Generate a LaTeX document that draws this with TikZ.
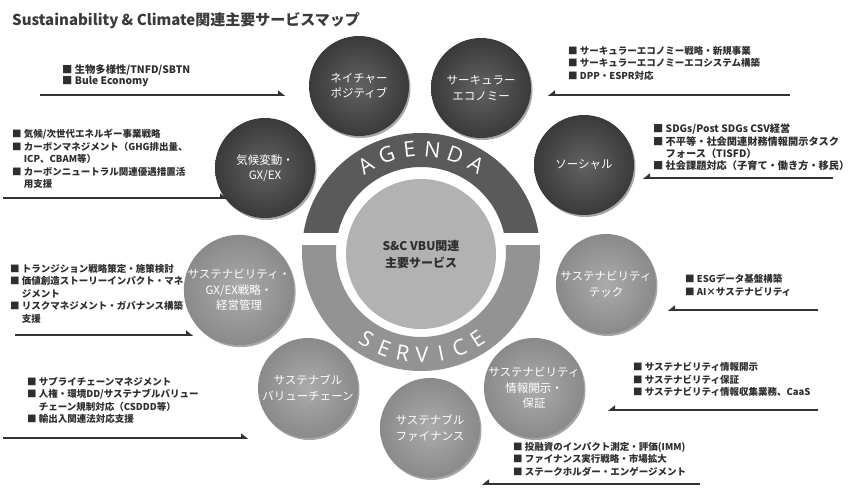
\documentclass[tikz,border=0pt]{standalone}
\usepackage{fontspec}
\setmainfont{Noto Sans CJK JP}
\newfontfamily\ringfont{Open Sans}
\usetikzlibrary{arrows.meta,shadows,calc}
\definecolor{titlegray}{HTML}{3A3A3A}
\definecolor{textdark}{HTML}{2E2E2E}
\definecolor{linegray}{HTML}{333333}
\definecolor{ringdark}{HTML}{5A5A5A}
\definecolor{ringlight}{HTML}{939393}
\definecolor{hubgray}{HTML}{B2B2B2}
\definecolor{satdarkin}{HTML}{626262}
\definecolor{satdarkout}{HTML}{3A3A3A}
\definecolor{satlightin}{HTML}{ABABAB}
\definecolor{satlightout}{HTML}{8A8A8A}
\tikzset{
  sat/.style={circle, minimum size=100pt, inner sep=0pt, align=center, text=white,
    font=\fontsize{11.5}{15.5}\selectfont,
    drop shadow={shadow xshift=1.5pt, shadow yshift=-2pt, opacity=0.35, fill=black}},
  darksat/.style={sat, inner color=satdarkin, outer color=satdarkout},
  lightsat/.style={sat, inner color=satlightin, outer color=satlightout},
  bullets/.style={anchor=north west, inner sep=0pt, align=left, text=textdark,
    font=\bfseries\fontsize{9.5}{12.5}\selectfont},
  ringletter/.style={inner sep=-3pt, font=\ringfont\fontsize{21.5}{21.5}\selectfont, text=white},
  connR/.style={draw=linegray, line width=1.5pt, -{Triangle[harpoon, length=6pt, width=9pt]}},
  connL/.style={draw=linegray, line width=1.5pt, -{Triangle[harpoon, swap, length=6pt, width=9pt]}},
}
\newcommand{\bl}{■\ }
\newcommand{\ind}{\hphantom{■\ }}
\begin{document}
\begin{tikzpicture}[x=1pt,y=1pt]
\useasboundingbox (0,0) rectangle (852,-488);
\clip (0,0) rectangle (852,-488);
\fill[white] (0,0) rectangle (852,-488);

% title
\node[anchor=base west, inner sep=0pt, text=titlegray, font=\bfseries\fontsize{15}{18}\selectfont] (title) at (12,-25)
  {Sustainability \& Climate関連主要サービスマップ};

% ring
\coordinate (c) at (421,-252);
\begin{scope}
  \clip (290,-232) rectangle (560,-120);
  \fill[ringdark, even odd rule] (c) circle (119) (c) circle (85);
\end{scope}
\begin{scope}
  \clip (290,-245) rectangle (560,-390);
  \fill[ringlight, even odd rule] (c) circle (119) (c) circle (85);
\end{scope}
\foreach \a/\l [count=\i] in {122.5/A,109.5/G,96.5/E,83.5/N,70.5/D,57.5/A}
  \node[ringletter, rotate=\a-90] (ag\i) at ($(c)+(\a:103)$) {\l};
\foreach \a/\l [count=\i] in {-122/S,-111/E,-100.2/R,-89.5/V,-78.8/I,-68/C,-57/E}
  \node[ringletter, rotate=\a+90] (sv\i) at ($(c)+(\a:103)$) {\l};

% hub
\node[circle, fill=hubgray, minimum size=150pt, inner sep=0pt, align=center, text=textdark,
  font=\bfseries\fontsize{12}{17}\selectfont] (hub) at (421,-254) {S\&C VBU関連\\主要サービス};

% satellites
\node[darksat] (nature) at (359,-86) {ネイチャー\\ポジティブ};
\node[darksat] (circular) at (481,-88) {サーキュラー\\エコノミー};
\node[darksat] (social) at (584,-165) {ソーシャル};
\node[darksat] (climate) at (265,-168) {気候変動・\\GX/EX};
\node[lightsat] (susgx) at (239,-290) {サステナビリティ・\\GX/EX戦略・\\経営管理};
\node[lightsat] (value) at (308,-388) {サステナブル\\バリューチェーン};
\node[lightsat] (finance) at (430,-428) {サステナブル\\ファイナンス};
\node[lightsat] (disclose) at (534,-388) {サステナビリティ\\情報開示・\\保証};
\node[lightsat] (tech) at (606,-284) {サステナビリティ\\テック};

% text blocks
\node[bullets, font=\bfseries\fontsize{10.3}{11.5}\selectfont] (b1) at (62,-64) {\bl 生物多様性/TNFD/SBTN\\\bl Bule Economy};
\node[bullets] (b2) at (568,-46) {\bl サーキュラーエコノミー戦略・新規事業\\\bl サーキュラーエコノミーエコシステム構築\\\bl DPP・ESPR対応};
\node[bullets, font=\bfseries\fontsize{10.2}{12.3}\selectfont] (b3) at (653,-124) {\bl SDGs/Post SDGs CSV経営\\\bl 不平等・社会関連財務情報開示タスク\\\ind フォース（TISFD）\\\bl 社会課題対応（子育て・働き方・移民）};
\node[bullets] (b4) at (12,-129) {\bl 気候/次世代エネルギー事業戦略\\\bl カーボンマネジメント（GHG排出量、\\\ind ICP、CBAM等）\\\bl カーボンニュートラル関連優遇措置活\\\ind 用支援};
\node[bullets] (b5) at (10,-264) {\bl トランジション戦略策定・施策検討\\\bl 価値創造ストーリーインパクト・マネ\\\ind ジメント\\\bl リスクマネジメント・ガバナンス構築\\\ind 支援};
\node[bullets] (b6) at (27,-377) {\bl サプライチェーンマネジメント\\\bl 人権・環境DD/サステナブルバリュー\\\ind チェーン規制対応（CSDDD等）\\\bl 輸出入関連法対応支援};
\node[bullets] (b7) at (513,-442) {\bl 投融資のインパクト測定・評価(IMM)\\\bl ファイナンス実行戦略・市場拡大\\\bl ステークホルダー・エンゲージメント};
\node[bullets] (b8) at (633,-362) {\bl サステナビリティ情報開示\\\bl サステナビリティ保証\\\bl サステナビリティ情報収集業務、CaaS};
\node[bullets] (b9) at (685,-274) {\bl ESGデータ基盤構築\\\bl AI×サステナビリティ};

% pointer lines
\coordinate (l1s) at (40,-95);   \coordinate (l1e) at (285,-95);
\coordinate (l2s) at (790,-95);  \coordinate (l2e) at (548,-95);
\coordinate (l3s) at (833,-178); \coordinate (l3e) at (643,-178);
\coordinate (l4s) at (3,-198);   \coordinate (l4e) at (227,-198);
\coordinate (l5s) at (15,-335);  \coordinate (l5e) at (193,-335);
\coordinate (l6s) at (3,-438);   \coordinate (l6e) at (248,-438);
\coordinate (l7s) at (700,-484); \coordinate (l7e) at (482,-484);
\coordinate (l8s) at (818,-410); \coordinate (l8e) at (608,-410);
\coordinate (l9s) at (818,-310); \coordinate (l9e) at (668,-310);
\draw[connR] (l1s) -- (l1e);
\draw[connL] (l2s) -- (l2e);
\draw[connL] (l3s) -- (l3e);
\draw[connR] (l4s) -- (l4e);
\draw[connR] (l5s) -- (l5e);
\draw[connR] (l6s) -- (l6e);
\draw[connL] (l7s) -- (l7e);
\draw[connL] (l8s) -- (l8e);
\draw[connL] (l9s) -- (l9e);
\end{tikzpicture}
\end{document}
